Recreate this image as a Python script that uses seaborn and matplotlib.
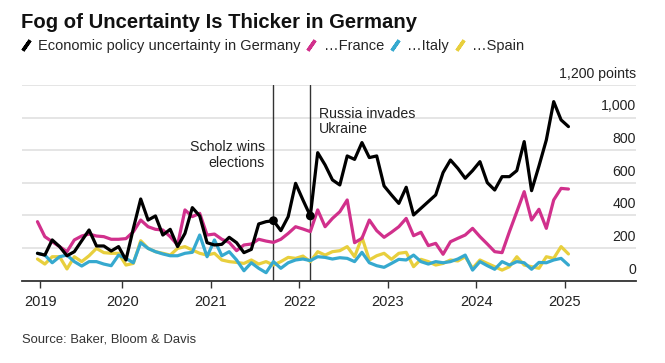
import pandas as pd
import numpy as np
import matplotlib.pyplot as plt
import matplotlib.transforms as mtransforms
from matplotlib.lines import Line2D
import seaborn as sns

# monthly index values, Jan 2019 - Jan 2025
germany = [168, 157, 250, 209, 153, 178, 245, 311, 213, 213, 182, 209,
           127, 320, 501, 372, 397, 280, 315, 209, 290, 448, 397, 233,
           219, 223, 266, 233, 172, 192, 348, 362, 368, 307, 393, 597,
           495, 397, 785, 710, 618, 587, 765, 744, 847, 755, 765, 581,
           526, 474, 573, 403, 444, 485, 526, 663, 740, 689, 628, 675,
           730, 601, 556, 638, 638, 675, 853, 552, 703, 863, 1098, 986,
           945]
france = [362, 270, 239, 209, 178, 250, 274, 286, 274, 270, 254, 254,
          258, 300, 372, 331, 315, 311, 270, 219, 434, 393, 413, 280,
          286, 254, 235, 184, 219, 225, 254, 243, 235, 254, 290, 331,
          317, 301, 434, 331, 382, 423, 495, 233, 260, 372, 307, 266,
          297, 331, 382, 276, 297, 215, 229, 162, 239, 260, 280, 321,
          270, 225, 178, 172, 301, 423, 546, 372, 438, 321, 495, 566,
          562]
italy = [168, 157, 110, 147, 157, 117, 90, 117, 117, 102, 92, 157,
         137, 110, 233, 198, 178, 164, 153, 153, 168, 174, 280, 147,
         250, 153, 178, 127, 61, 110, 76, 49, 117, 76, 110, 127,
         133, 123, 147, 143, 133, 141, 137, 117, 174, 110, 92, 82,
         106, 131, 127, 157, 117, 102, 117, 110, 117, 133, 157, 65,
         117, 92, 70, 117, 96, 117, 110, 70, 112, 110, 127, 137,
         96]
spain = [133, 102, 147, 147, 72, 147, 117, 153, 198, 172, 168, 168,
         96, 106, 245, 198, 178, 168, 157, 198, 209, 188, 168, 157,
         168, 127, 117, 112, 106, 127, 102, 117, 96, 117, 143, 137,
         151, 117, 178, 157, 178, 184, 209, 147, 266, 127, 153, 168,
         131, 168, 174, 86, 131, 117, 96, 106, 127, 121, 147, 76,
         127, 106, 86, 65, 86, 147, 96, 86, 76, 147, 137, 209,
         164]

countries = ["Germany", "France", "Italy", "Spain"]
colors = {"Germany": "#000000", "France": "#d1308c",
          "Italy": "#36a9cf", "Spain": "#e8cf3d"}
legend_labels = ["Economic policy uncertainty in Germany", "…France", "…Italy", "…Spain"]
years = [2019, 2020, 2021, 2022, 2023, 2024, 2025]
y_ticks = [0, 200, 400, 600, 800, 1000, 1200]
y_labels = ["0", "200", "400", "600", "800", "1,000", "1,200 points"]
events = [("2021-09", "Scholz wins\nelections"), ("2022-02", "Russia invades\nUkraine")]

months = pd.period_range("2019-01", periods=len(germany), freq="M")
xpos = months.year + (months.month - 0.5) / 12

df = pd.DataFrame({"x": np.tile(xpos, 4),
                   "country": np.repeat(countries, len(germany)),
                   "value": germany + france + italy + spain})

sns.set_theme(style="white")
plt.rcParams["font.family"] = ["Liberation Sans", "DejaVu Sans"]

fig = plt.figure(figsize=(6.65, 3.63), dpi=100)
ax = fig.add_axes([22 / 665, 82.3 / 363, 614 / 665, 195.7 / 363])

sns.lineplot(data=df, x="x", y="value", hue="country",
             hue_order=["Spain", "Italy", "France", "Germany"],
             palette=colors, lw=2.3, legend=False, ax=ax)

ax.set_xlim(2018.867, 2025.805)
ax.set_ylim(0, 1200)

# gridlines and right-side labels
ax.set_yticks(y_ticks)
ax.grid(axis="y", color="#e0e0e0", lw=1.2)
ax.tick_params(axis="y", length=0, labelleft=False)
trans = mtransforms.offset_copy(mtransforms.blended_transform_factory(ax.transAxes, ax.transData),
                                fig=fig, y=3, units="points")
for v, lab in zip(y_ticks, y_labels):
    ax.text(1.0, v, lab, transform=trans, ha="right", va="bottom",
            fontsize=10.2, color="#222222")

tick_pos = [max(y, xpos[0] + 0.03) for y in years]
ax.set_xticks(tick_pos)
ax.set_xticklabels([str(y) for y in years], fontsize=10.5, color="#222222")
ax.tick_params(axis="x", direction="out", length=5, width=1, color="#333333", pad=5, bottom=True)
ax.set_xlabel("")
ax.set_ylabel("")

for s in ["top", "right", "left"]:
    ax.spines[s].set_visible(False)
ax.spines["bottom"].set_color("#333333")
ax.spines["bottom"].set_linewidth(1.3)

# event markers
ev_x, ev_y = [], []
for i, (month, text) in enumerate(events):
    idx = list(months.astype(str)).index(month)
    ev_x.append(xpos[idx])
    ev_y.append(germany[idx])
    ax.axvline(xpos[idx], color="#333333", lw=1, zorder=1)
    if i == 0:
        ax.annotate(text, (xpos[idx], 860), xytext=(-6, 0), textcoords="offset points",
                    ha="right", va="top", fontsize=10.2, color="#222222", linespacing=1.1)
    else:
        ax.annotate(text, (xpos[idx], 1066), xytext=(6, 0), textcoords="offset points",
                    ha="left", va="top", fontsize=10.2, color="#222222", linespacing=1.1)
sns.scatterplot(x=ev_x, y=ev_y, color="black", s=40, zorder=5, ax=ax, edgecolor="none")

# title, legend, source
fig.text(21 / 665, 1 - 28.5 / 363, "Fog of Uncertainty Is Thicker in Germany",
         fontsize=14.6, weight="bold", va="baseline", color="#111111")
handles = [Line2D([], [], color=colors[c], marker=(2, 2, -35), linestyle="None",
                  markersize=9, markeredgewidth=2.5, markeredgecolor=colors[c])
           for c in countries]
fig.legend(handles, legend_labels, loc="upper left", bbox_to_anchor=(19 / 665, 1 - 39 / 363),
           ncol=4, frameon=False, fontsize=10.5, handlelength=0.9, handletextpad=0.4,
           columnspacing=0.3, borderpad=0, borderaxespad=0)
fig.text(22 / 665, 1 - 342 / 363, "Source: Baker, Bloom & Davis",
         fontsize=9.4, va="baseline", color="#333333")

fig.savefig("out.png", dpi=100, facecolor="white")
